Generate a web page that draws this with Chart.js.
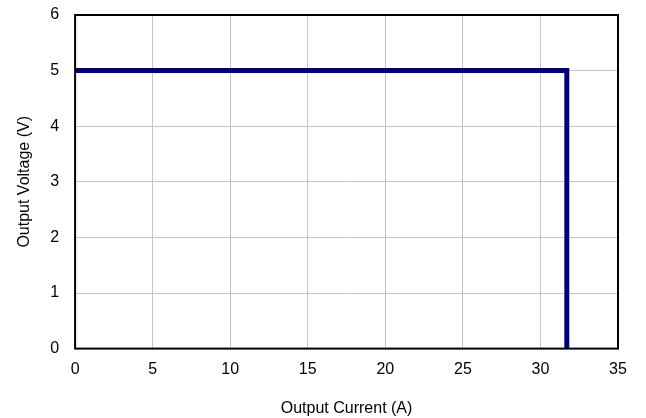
<!DOCTYPE html>
<html>
<head>
<meta charset="utf-8">
<script src="https://cdn.jsdelivr.net/npm/chart.js@4/dist/chart.umd.min.js"></script>
<style>
html,body{margin:0;padding:0;background:#fff;}
#wrap{width:646px;height:418px;}
</style>
</head>
<body>
<div id="wrap"><canvas id="c" width="646" height="418"></canvas></div>
<script>
const currentA = [0, 31.7, 31.7];
const voltageV = [5, 5, 0];
const xTicks = [0, 5, 10, 15, 20, 25, 30, 35];
const yTicks = [0, 1, 2, 3, 4, 5, 6];

const frame = {
  id: 'frame',
  afterDraw(chart) {
    const {ctx, chartArea: a} = chart;
    ctx.save();
    ctx.strokeStyle = '#000';
    ctx.lineWidth = 2;
    ctx.strokeRect(a.left, a.top, a.right - a.left, a.bottom - a.top);
    ctx.restore();
  }
};

Chart.defaults.font.family = 'Liberation Sans, Arial, sans-serif';
Chart.defaults.font.size = 16;
Chart.defaults.color = '#000';

new Chart(document.getElementById('c'), {
  type: 'scatter',
  data: {
    datasets: [{
      data: currentA.map((x, i) => ({x: x, y: voltageV[i]})),
      showLine: true,
      borderColor: '#000080',
      borderWidth: 5,
      pointRadius: 0,
      fill: false,
      borderJoinStyle: 'miter',
      tension: 0
    }]
  },
  options: {
    responsive: false,
    animation: false,
    layout: {padding: {left: 15, right: 28, top: 15, bottom: 0}},
    plugins: {legend: {display: false}, tooltip: {enabled: false}},
    scales: {
      x: {
        type: 'linear', min: 0, max: 35,
        afterBuildTicks: s => { s.ticks = xTicks.map(v => ({value: v})); },
        afterFit: s => { s.paddingRight = 0; s.paddingLeft = 0; },
        grid: {color: '#c4c4c4', borderDash: [1, 1], drawTicks: false, lineWidth: 1},
        border: {display: false},
        ticks: {padding: 11},
        title: {display: true, text: 'Output Current (A)', padding: {top: 9, bottom: 0}}
      },
      y: {
        type: 'linear', min: 0, max: 6,
        afterBuildTicks: s => { s.ticks = yTicks.map(v => ({value: v})); },
        afterFit: s => { s.paddingTop = 0; s.paddingBottom = 0; },
        grid: {color: '#c4c4c4', borderDash: [1, 1], drawTicks: false, lineWidth: 1},
        border: {display: false},
        ticks: {padding: 16},
        title: {display: true, text: 'Output Voltage (V)', padding: {top: 0, bottom: 0}}
      }
    }
  },
  plugins: [frame]
});
</script>
</body>
</html>
